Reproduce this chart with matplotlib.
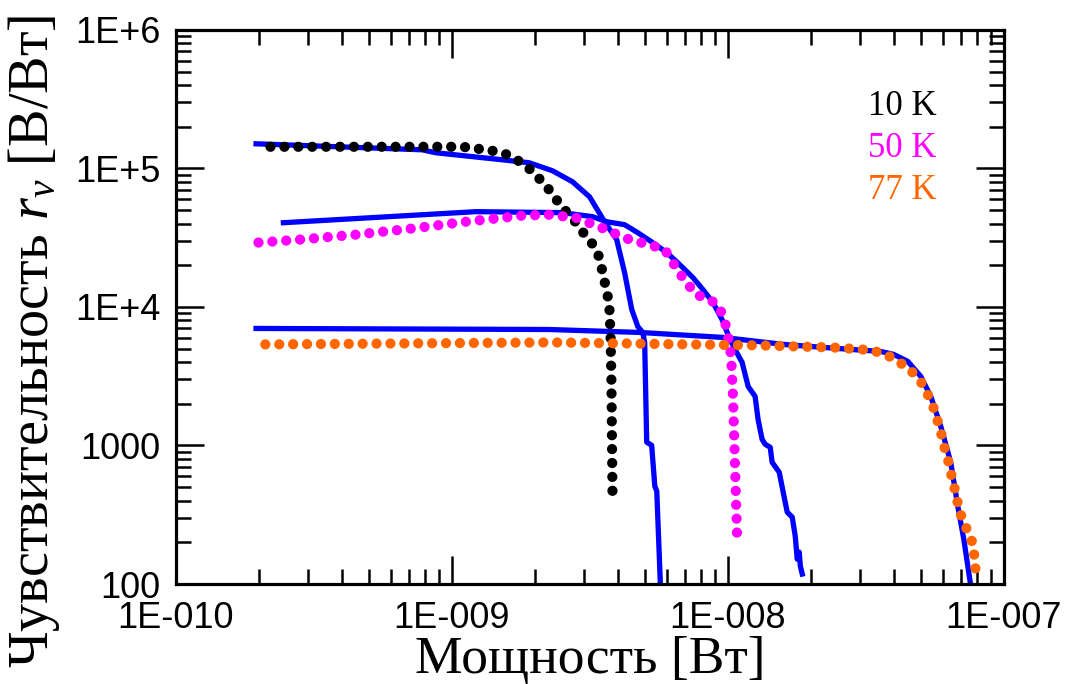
import matplotlib
matplotlib.use("Agg")
import matplotlib.pyplot as plt
from matplotlib.ticker import LogLocator, NullFormatter

# ---------------- data ----------------
# 10 K: dotted (black)
x_10K_dots = [2.2e-10, 1.09e-9, 1.243e-9, 1.398e-9, 1.558e-9, 1.738e-9, 1.905e-9, 2.072e-9,
              2.234e-9, 2.39e-9, 2.576e-9, 2.777e-9, 2.97e-9, 3.203e-9, 3.395e-9, 3.482e-9,
              3.571e-9, 3.662e-9, 3.72e-9, 3.754e-9, 3.78e-9, 3.818e-9]
y_10K_dots = [1.435e5, 1.435e5, 1.388e5, 1.343e5, 1.277e5, 1.137e5, 9.96e4, 8.44e4,
              7.14e4, 5.95e4, 4.96e4, 4.2e4, 3.5e4, 2.92e4, 2.35e4, 1.926e4,
              1.527e4, 1.21e4, 9.6e3, 6.13e3, 3.0e3, 380]

# 10 K: solid (blue)
x_10K_line = [1.95e-10, 7.78e-10, 8.75e-10, 1.52e-9, 1.905e-9, 2.31e-9, 2.73e-9, 3.15e-9,
              3.57e-9, 3.95e-9, 4.22e-9, 4.48e-9, 4.71e-9, 4.91e-9, 4.99e-9, 5.075e-9,
              5.29e-9, 5.43e-9, 5.52e-9, 5.7e-9]
y_10K_line = [1.508e5, 1.365e5, 1.299e5, 1.156e5, 1.1e5, 9.64e4, 8.03e4, 6.25e4,
              4.13e4, 3.07e4, 1.773e4, 9.6e3, 7.24e3, 6.55e3, 5.55e3, 1.056e3,
              1.004e3, 509, 468, 90]

# 50 K: dotted (magenta)
x_50K_dots = [1.99e-10, 2.825e-10, 4.48e-10, 7.1e-10, 1.125e-9, 1.782e-9, 2.234e-9, 2.8e-9,
              3.48e-9, 4.29e-9, 5.33e-9, 5.9e-9, 6.69e-9, 7.65e-9, 8.39e-9, 9.2e-9,
              9.59e-9, 9.92e-9, 1.026e-8, 1.043e-8, 1.079e-8]
y_50K_dots = [2.92e4, 3.07e4, 3.33e4, 3.68e4, 4.13e4, 4.56e4, 4.64e4, 4.42e4,
              3.74e4, 3.12e4, 2.77e4, 2.6e4, 1.743e4, 1.23e4, 1.152e4, 1.043e4,
              8.54e3, 6.88e3, 4.4e3, 2.23e3, 215]

# 50 K: solid (blue)
x_50K_line = [2.45e-10, 1.223e-9, 2.51e-9, 3.23e-9, 3.63e-9, 4.22e-9, 4.71e-9, 5.2e-9,
              6.0e-9, 6.69e-9, 7.46e-9, 8.11e-9, 8.82e-9, 9.51e-9, 1.017e-8, 1.06e-8,
              1.125e-8, 1.183e-8, 1.254e-8, 1.285e-8, 1.329e-8, 1.364e-8, 1.422e-8, 1.445e-8,
              1.533e-8, 1.598e-8, 1.639e-8, 1.709e-8, 1.752e-8, 1.782e-8, 1.812e-8, 1.828e-8,
              1.858e-8]
y_50K_line = [4.06e4, 4.88e4, 4.8e4, 4.49e4, 4.13e4, 3.93e4, 3.44e4, 3.02e4,
              2.47e4, 2.02e4, 1.632e4, 1.337e4, 1.078e4, 8.13e3, 5.83e3, 4.94e3,
              3.98e3, 2.67e3, 2.26e3, 1.545e3, 1.109e3, 1.02e3, 971, 757,
              641, 424, 330, 304, 222, 151, 170, 135,
              118]

# 77 K: dotted (orange)
x_77K_dots = [2.107e-10, 2.31e-9, 1.307e-8, 2.41e-8, 3.05e-8, 3.42e-8, 3.79e-8, 4.19e-8,
              4.59e-8, 4.99e-8, 5.25e-8, 5.52e-8, 5.71e-8, 5.9e-8, 6.05e-8, 6.25e-8,
              6.41e-8, 6.58e-8, 6.75e-8, 6.92e-8, 7.21e-8, 7.59e-8, 7.78e-8, 7.84e-8,
              8.04e-8]
y_77K_dots = [5.37e3, 5.55e3, 5.28e3, 5.1e3, 4.94e3, 4.78e3, 4.47e3, 3.98e3,
              3.49e3, 2.9e3, 2.42e3, 1.95e3, 1.572e3, 1.267e3, 1.004e3, 810,
              641, 517, 410, 330, 266, 218, 173, 137,
              105]

# 77 K: solid (blue)
x_77K_line = [1.95e-10, 2.25e-9, 4.79e-9, 9.59e-9, 1.585e-8, 2.78e-8, 3.57e-8, 3.98e-8,
              4.48e-8, 4.99e-8, 5.43e-8, 5.9e-8, 6.41e-8, 6.8e-8, 7.15e-8, 7.59e-8]
y_77K_line = [7.0e3, 6.88e3, 6.55e3, 6.03e3, 5.37e3, 4.94e3, 4.78e3, 4.55e3,
              4.05e3, 3.16e3, 2.26e3, 1.376e3, 757, 365, 211, 95]

x_ticks = [1e-10, 1e-9, 1e-8, 1e-7]
x_tick_labels = ["1E-010", "1E-009", "1E-008", "1E-007"]
y_ticks = [1e2, 1e3, 1e4, 1e5, 1e6]
y_tick_labels = ["100", "1000", "1E+4", "1E+5", "1E+6"]

legend_labels = ["10 K", "50 K", "77 K"]
legend_colors = ["black", "#ff00ff", "#ff6600"]

# ---------------- figure ----------------
plt.rcParams["mathtext.fontset"] = "custom"
plt.rcParams["mathtext.rm"] = "Liberation Serif"
plt.rcParams["mathtext.it"] = "Liberation Serif:italic"

fig = plt.figure(figsize=(10.67, 6.84), dpi=100)
ax = fig.add_axes([176 / 1067, 1 - 584 / 684, 828 / 1067, 554 / 684])
ax.set_xscale("log")
ax.set_yscale("log")
ax.set_xlim(1e-10, 1e-7)
ax.set_ylim(1e2, 1e6)

blue = "#0000ff"
lw_line = 3.8
dot_lw = 7.4
dot_style = dict(linestyle=(0, (0.001, 10.0 / dot_lw)), dash_capstyle="round",
                 linewidth=dot_lw)

ax.plot(x_10K_line, y_10K_line, color=blue, lw=lw_line, zorder=2)
ax.plot(x_50K_line, y_50K_line, color=blue, lw=lw_line, zorder=2)
ax.plot(x_77K_line, y_77K_line, color=blue, lw=lw_line, zorder=2)

ax.plot(x_10K_dots, y_10K_dots, color=legend_colors[0], zorder=3, **dot_style)
ax.plot(x_50K_dots, y_50K_dots, color=legend_colors[1], zorder=3, **dot_style)
ax.plot(x_77K_dots, y_77K_dots, color=legend_colors[2], zorder=3, **dot_style)

# ticks
ax.set_xticks(x_ticks)
ax.set_xticklabels(x_tick_labels)
ax.set_yticks(y_ticks)
ax.set_yticklabels(y_tick_labels)
ax.xaxis.set_minor_locator(LogLocator(base=10, subs=range(2, 10), numticks=20))
ax.yaxis.set_minor_locator(LogLocator(base=10, subs=range(2, 10), numticks=20))
ax.xaxis.set_minor_formatter(NullFormatter())
ax.yaxis.set_minor_formatter(NullFormatter())
ax.tick_params(which="both", direction="in", top=True, right=True, width=1.8, color="black")
ax.tick_params(which="major", length=20, labelsize=26)
ax.tick_params(axis="x", which="major", pad=12)
ax.tick_params(axis="y", which="major", pad=11)
ax.tick_params(which="minor", length=10.5)
for lab in ax.get_xticklabels() + ax.get_yticklabels():
    lab.set_fontfamily("Liberation Sans")
for sp in ax.spines.values():
    sp.set_linewidth(2.3)

ax.set_xlabel("Мощность [Вт]", fontfamily="Liberation Serif", fontsize=38.5, labelpad=0)
ax.set_ylabel("Чувствительность $r_v$ [В/Вт]", fontfamily="Liberation Serif", fontsize=40.5)
ax.yaxis.set_label_coords(-0.138, 0.438)

ys = [0.8466, 0.7708, 0.695]
for lab, col, yy in zip(legend_labels, legend_colors, ys):
    ax.text(0.836, yy, lab, color=col, transform=ax.transAxes, fontfamily="Liberation Serif",
            fontsize=25, ha="left", va="baseline")

fig.savefig("out.png", dpi=100)
